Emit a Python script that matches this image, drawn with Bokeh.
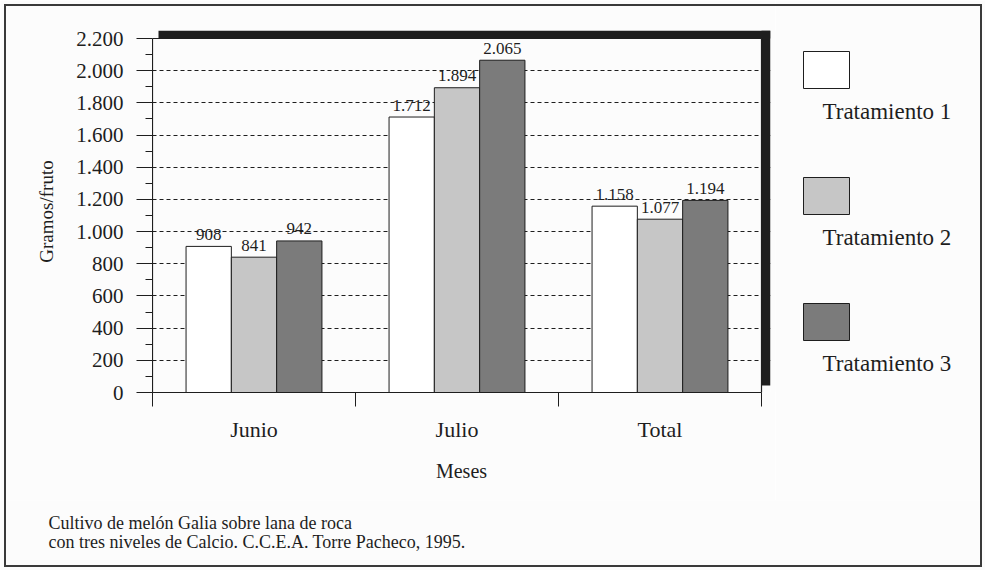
from bokeh.plotting import figure
from bokeh.layouts import column, row
from bokeh.models import Range1d, FixedTicker, InlineStyleSheet
from bokeh.core.properties import value
from bokeh.embed import file_html
from bokeh.resources import INLINE

# --- data -------------------------------------------------------------
months = ["Junio", "Julio", "Total"]
treatments = ["Tratamiento 1", "Tratamiento 2", "Tratamiento 3"]
trat1 = [908, 1712, 1158]
trat2 = [841, 1894, 1077]
trat3 = [942, 2065, 1194]
y_ticks = list(range(0, 2201, 200))
y_minor = list(range(100, 2200, 200))
caption = [
    "Cultivo de melón Galia sobre lana de roca",
    "con tres niveles de Calcio. C.C.E.A.  Torre Pacheco, 1995.",
]

series = [trat1, trat2, trat3]
fills = ["#ffffff", "#c6c6c6", "#7b7b7b"]


def miles(v):
    """Spanish thousands separator: 2200 -> 2.200"""
    return f"{v:,}".replace(",", ".")


FONT = "Liberation Serif"
INK = "#1e1e1e"
BG = "#fcfcfc"
BASELINE_FIX = -6   # lift "alphabetic" text onto its intended baseline

# --- page geometry ----------------------------------------------------
W, H = 985, 570
MAIN_W, TOP_H = 775, 500            # chart panel; legend panel to its right
B_LEFT, B_RIGHT, B_TOP, B_BOTTOM = 152, 5, 30, 108
frame_w = MAIN_W - B_LEFT - B_RIGHT  # includes the drop shadow
frame_h = TOP_H - B_TOP - B_BOTTOM
PX_PER_MONTH = 203.0
PX_FOR_TOP = 354.0                  # pixel height of the 0..2200 box
y_top = y_ticks[-1]
x_end = frame_w / PX_PER_MONTH
y_end = y_top * frame_h / PX_FOR_TOP
n = len(months)
bar_w = 45.3 / PX_PER_MONTH

# --- chart ------------------------------------------------------------
p = figure(
    width=MAIN_W, height=TOP_H,
    x_range=Range1d(0, x_end), y_range=Range1d(0, y_end),
    min_border_left=B_LEFT, min_border_right=B_RIGHT,
    min_border_top=B_TOP, min_border_bottom=B_BOTTOM,
    output_backend="svg", toolbar_location=None,
    background_fill_color=BG, border_fill_color=BG,
    outline_line_color=None,
)

# drop shadow of the plotting box (top band and right band)
shadow_dx = 6 / PX_PER_MONTH
shadow_bottom = 7 * y_top / PX_FOR_TOP
p.quad(left=[shadow_dx], right=[x_end], bottom=[y_top], top=[y_end],
       fill_color=INK, line_color=None)
p.quad(left=[n], right=[x_end], bottom=[shadow_bottom], top=[y_end],
       fill_color=INK, line_color=None)
# plotting box outline
p.quad(left=[0], right=[n], bottom=[0], top=[y_top],
       fill_color=None, line_color=INK, line_width=1.2)

# grouped bars with value labels
for j, (vals, fill) in enumerate(zip(series, fills)):
    xs = [i + 0.5 + (j - 1) * bar_w for i in range(n)]
    p.vbar(x=xs, top=vals, width=bar_w, fill_color=fill,
           line_color=INK, line_width=1)
    p.text(x=xs, y=vals, text=[miles(v) for v in vals],
           text_font=value(FONT), text_font_size="17px", text_color=INK,
           text_align="center", text_baseline="alphabetic",
           y_offset=BASELINE_FIX - 6)

# y axis
ya = p.yaxis[0]
ya.ticker = FixedTicker(ticks=y_ticks, minor_ticks=y_minor)
ya.major_label_overrides = {t: miles(t) for t in y_ticks}
ya.bounds = (0, y_top)
ya.major_tick_out, ya.major_tick_in = 16, 0
ya.minor_tick_out, ya.minor_tick_in = 7, 0
ya.major_label_standoff = 13
ya.axis_label = "Gramos/fruto"
ya.axis_label_standoff = 16

# x axis: ticks at month boundaries, labels at centres
xa = p.xaxis[0]
xa.ticker = FixedTicker(ticks=[i + 0.5 for i in range(n)],
                        minor_ticks=list(range(n + 1)))
xa.major_label_overrides = {i + 0.5: m for i, m in enumerate(months)}
xa.bounds = (0, n)
xa.major_tick_out, xa.major_tick_in = 0, 0
xa.minor_tick_out, xa.minor_tick_in = 14, 0
xa.major_label_standoff = 10
xa.axis_label = "Meses"
xa.axis_label_standoff = 15

for ax in (xa, ya):
    ax.axis_line_color = INK
    ax.major_tick_line_color = INK
    ax.minor_tick_line_color = INK
    ax.major_label_text_font = FONT
    ax.major_label_text_font_size = "21px"
    ax.major_label_text_color = INK
    ax.axis_label_text_font = FONT
    ax.axis_label_text_font_style = "normal"
    ax.axis_label_text_color = INK
xa.major_label_text_font_size = "22px"
xa.axis_label_text_font_size = "20px"
ya.axis_label_text_font_size = "19px"

p.xgrid.visible = False
p.ygrid.ticker = FixedTicker(ticks=y_ticks[1:-1])
p.ygrid.grid_line_color = INK
p.ygrid.grid_line_dash = "4 3"
p.ygrid.grid_line_width = 1


def blank(width, height, x0, y0, y1):
    """Axis-less panel whose data coordinates are page pixels (y down)."""
    f = figure(
        width=width, height=height,
        x_range=Range1d(x0, x0 + width), y_range=Range1d(y1, y0),
        x_axis_location=None, y_axis_location=None, min_border=0,
        output_backend="svg", toolbar_location=None,
        background_fill_color=BG, border_fill_color=BG,
        outline_line_color=None,
    )
    f.grid.visible = False
    return f


# --- legend: swatch with the treatment name underneath ----------------
# its frame lines up with the chart frame (page y B_TOP .. TOP_H - B_BOTTOM)
leg = blank(W - MAIN_W, TOP_H, MAIN_W, B_TOP, TOP_H - B_BOTTOM)
sw_top = [51 + 126 * k for k in range(len(treatments))]
leg.quad(left=[803] * 3, right=[849] * 3, top=sw_top,
         bottom=[t + 37 for t in sw_top], fill_color=fills,
         line_color=INK, line_width=1)
leg.text(x=[822] * 3, y=[t + 66 for t in sw_top], text=treatments,
         text_font=value(FONT), text_font_size="23px", text_color=INK,
         text_baseline="alphabetic", y_offset=BASELINE_FIX)

# --- caption ----------------------------------------------------------
cap = blank(W, H - TOP_H, 0, TOP_H, H)
cap.text(x=[48, 48], y=[528, 547], text=caption,
         text_font=value(FONT), text_font_size="18px", text_color=INK,
         text_baseline="alphabetic", y_offset=BASELINE_FIX)

# thin frame round the whole page, painted above the panels
frame_css = InlineStyleSheet(css="""
:host { position: relative; }
:host::after {
  content: "";
  position: absolute;
  left: 4px; top: 4px; right: 3px; bottom: 3px;
  border: 2px solid #3a3a3a;
  pointer-events: none;
  z-index: 10;
}
""")

page = column(row(p, leg), cap, stylesheets=[frame_css])

open("out.html", "w").write(file_html(page, INLINE))
